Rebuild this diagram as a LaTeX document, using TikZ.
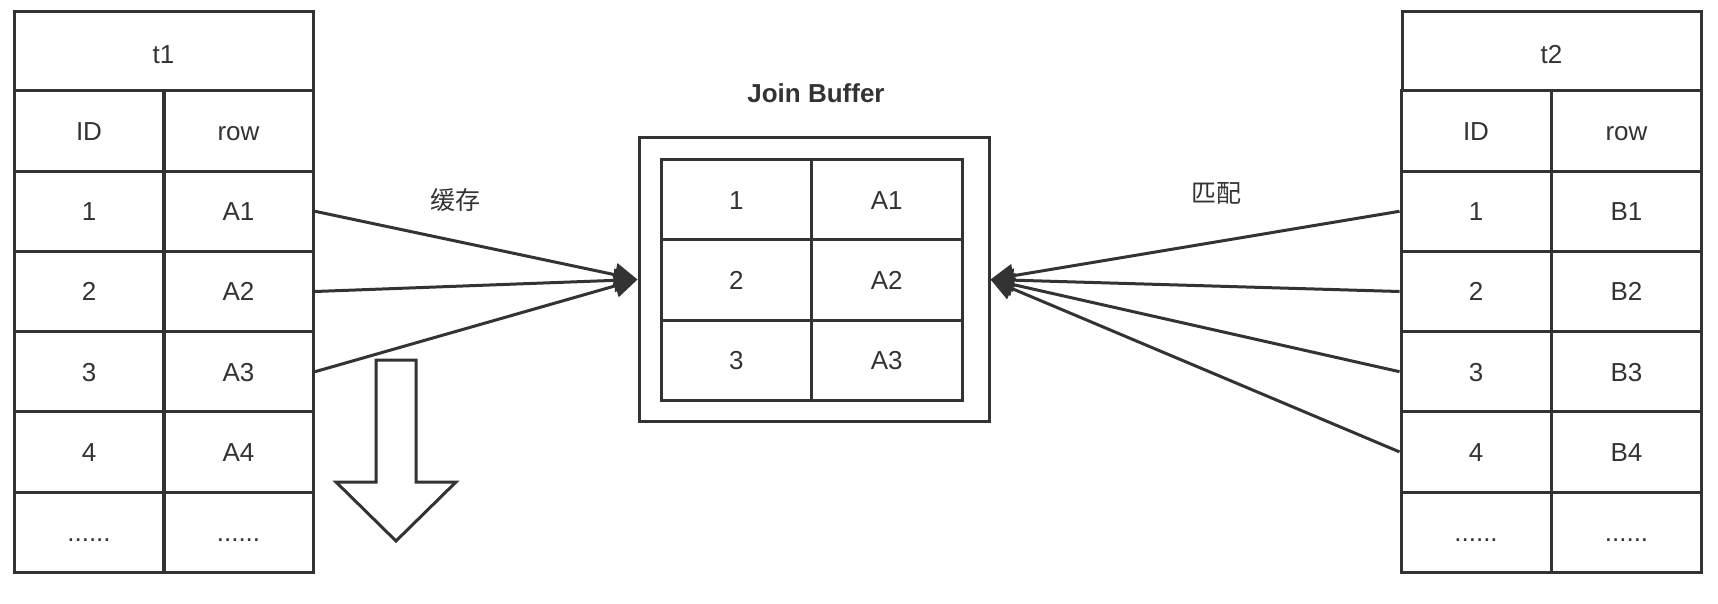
\documentclass[tikz,border=0pt]{standalone}
\usepackage{fontspec}
\setmainfont{Liberation Sans}
\newfontfamily\cjk{Noto Sans CJK SC}
\usetikzlibrary{arrows.meta}
\definecolor{ink}{HTML}{333333}
\begin{document}
\begin{tikzpicture}[x=0.5pt,y=-0.5pt,
  cell/.style={draw=ink, line width=1.5pt, inner sep=0pt, minimum width=75pt,
    minimum height=40.1pt, text=ink, font=\fontsize{13}{15}\selectfont,
    text height=9.3pt, text depth=0pt},
  titlecell/.style={cell, minimum width=149.5pt, minimum height=39.5pt, text height=12.3pt},
  bufcell/.style={cell, minimum width=75.25pt, minimum height=40pt},
  outerbox/.style={draw=ink, line width=1.5pt, inner sep=0pt, minimum width=175pt, minimum height=141.5pt},
  lbl/.style={text=ink, inner sep=0pt, font=\fontsize{13}{15}\selectfont},
  conn/.style={draw=ink, line width=1.5pt, -{Triangle[length=11.5pt,width=11.5pt]}},
  bigarrow/.style={draw=ink, line width=1.5pt, line join=miter}]
\useasboundingbox (0,0) rectangle (1718,604);

% tables t1 and t2
\foreach \side/\xa/\xb/\xt/\ttl/\pfx in {L/89/238.5/163.5/t1/A, R/1476/1626.5/1551.5/t2/B} {
  \node[titlecell] (\side-t) at (\xt,51.5) {\ttl};
  \node[cell] (\side-h-1) at (\xa,131.1) {ID};
  \node[cell] (\side-h-2) at (\xb,131.1) {row};
  \foreach \i in {1,...,4} {
    \node[cell] (\side-\i-1) at (\xa,{131.1+80.2*\i}) {\i};
    \node[cell] (\side-\i-2) at (\xb,{131.1+80.2*\i}) {\pfx\i};
  }
  \node[cell] (\side-5-1) at (\xa,532.1) {......};
  \node[cell] (\side-5-2) at (\xb,532.1) {......};
}

% join buffer
\node[lbl, font=\fontsize{13}{15}\selectfont\bfseries] (jbl) at (816,93) {Join Buffer};
\node[outerbox] (buf) at (814,279.5) {};
\foreach \i/\yy in {1/200,2/280,3/360} {
  \node[bufcell] (B-\i-1) at (736.25,\yy) {\i};
  \node[bufcell] (B-\i-2) at (886.75,\yy) {A\i};
}

% labels
\node[lbl, font=\fontsize{12.5}{15}\selectfont\cjk] (cache) at (455,200) {缓存};
\node[lbl, font=\fontsize{12.5}{15}\selectfont\cjk] (match) at (1216,193) {匹配};

% connectors
\foreach \i in {1,2,3} {
  \draw[conn] (L-\i-2.east) -- (buf.west);
}
\foreach \i in {1,2,3,4} {
  \draw[conn] (R-\i-1.west) -- (buf.east);
}

% hollow down arrow
\draw[bigarrow] (376,360) -- (416,360) -- (416,482) -- (456,482) -- (396,541)
  -- (336,482) -- (376,482) -- cycle;
\end{tikzpicture}
\end{document}
